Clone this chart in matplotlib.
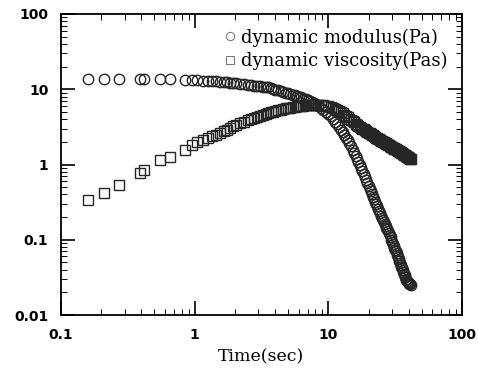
import numpy as np
import matplotlib
matplotlib.use("Agg")
import matplotlib.pyplot as plt

# time axis (sec), shared by both series
t = [0.16, 0.21, 0.27, 0.39, 0.42, 0.55, 0.65, 0.84, 0.95, 1.05,
     1.15, 1.25, 1.35, 1.45, 1.55, 1.65, 1.75, 1.85, 1.95, 2.05,
     2.2, 2.35, 2.5, 2.65, 2.8, 2.95, 3.1, 3.25, 3.4,
     3.55, 3.7, 3.85, 4.0, 4.2, 4.4, 4.6, 4.8, 5.0, 5.2, 5.4, 5.6, 5.8, 6.0,
     6.25, 6.5, 6.75, 7.0, 7.25, 7.5, 7.75, 8.0,
     8.4, 8.8, 9.2, 9.6, 10.0, 10.4, 10.8, 11.2, 11.6, 12.0,
     12.4, 12.8, 13.2, 13.6, 14.0, 14.4, 14.8, 15.2, 15.6, 16.0,
     16.4, 16.8, 17.2, 17.6, 18.0, 18.4, 18.8, 19.2, 19.6, 20.0,
     20.4, 20.8, 21.2, 21.6, 22.0, 22.4, 22.8, 23.2, 23.6, 24.0,
     24.4, 24.8, 25.2, 25.6, 26.0, 26.4, 26.8, 27.2, 27.6, 28.0,
     28.4, 28.8, 29.2, 29.6, 30.0, 30.4, 30.8, 31.2, 31.6, 32.0,
     32.4, 32.8, 33.2, 33.6, 34.0, 34.4, 34.8, 35.2, 35.6, 36.0,
     36.4, 36.8, 37.2, 37.6, 38.0, 38.4, 38.8, 39.2, 39.6, 40.0,
     40.4, 40.8, 41.2]

# dynamic modulus (Pa)
modulus = [13.6, 13.8, 13.8, 13.7, 13.7, 13.6, 13.5, 13.3, 13.2, 13.1,
           13.0, 12.9, 12.8, 12.7, 12.6, 12.45, 12.3, 12.2, 12.1, 12.0,
           11.8, 11.65, 11.5, 11.35, 11.2, 11.05, 10.95, 10.85, 10.7,
           10.55, 10.3, 10.1, 9.9, 9.66, 9.44, 9.2, 9.0, 8.83, 8.65, 8.49, 8.3, 8.15, 8.0,
           7.78, 7.53, 7.31, 7.1, 6.9, 6.7, 6.53, 6.36,
           6.07, 5.68, 5.31, 5.0, 4.71, 4.38, 4.03, 3.70, 3.42, 3.16,
           2.90, 2.67, 2.44, 2.26, 2.10, 1.95, 1.76, 1.58, 1.44, 1.31,
           1.19, 1.09, 0.99, 0.90, 0.817, 0.744, 0.678, 0.621, 0.568, 0.521,
           0.479, 0.441, 0.406, 0.375, 0.347, 0.321, 0.298, 0.277, 0.257, 0.239,
           0.224, 0.210, 0.197, 0.185, 0.174, 0.164, 0.154, 0.145, 0.137, 0.129,
           0.122, 0.1146, 0.1074, 0.1007, 0.0946, 0.0889, 0.0836, 0.0787, 0.0741, 0.0700,
           0.0661, 0.0624, 0.0589, 0.0555, 0.0523, 0.0493, 0.0467, 0.0441, 0.0417, 0.0394,
           0.0373, 0.0354, 0.0336, 0.0318, 0.0302, 0.0292, 0.0284, 0.0277, 0.0271, 0.0265,
           0.026, 0.0255, 0.025]

# dynamic viscosity (Pas)
viscosity = [0.34, 0.42, 0.53, 0.77, 0.84, 1.15, 1.25, 1.55, 1.8, 2.0,
             2.1, 2.25, 2.4, 2.5, 2.65, 2.78, 2.9, 3.05, 3.2, 3.35,
             3.55, 3.7, 3.85, 4.0, 4.15, 4.3, 4.45, 4.6, 4.75,
             4.85, 4.95, 5.05, 5.15, 5.25, 5.35, 5.45, 5.55, 5.62, 5.7, 5.78, 5.84, 5.9, 5.95,
             6.0, 6.05, 6.1, 6.13, 6.16, 6.18, 6.2, 6.2,
             6.2, 6.17, 6.12, 6.05, 5.95, 5.82, 5.65, 5.48, 5.3, 5.12,
             4.95, 4.77, 4.6, 4.42, 4.25, 4.08, 3.92, 3.77, 3.63, 3.5,
             3.38, 3.27, 3.17, 3.08, 3.0, 2.92, 2.85, 2.78, 2.71, 2.65,
             2.59, 2.53, 2.48, 2.43, 2.38, 2.33, 2.28, 2.24, 2.2, 2.16,
             2.12, 2.08, 2.04, 2.0, 1.97, 1.94, 1.91, 1.88, 1.85, 1.82,
             1.79, 1.76, 1.73, 1.71, 1.69, 1.67, 1.65, 1.63, 1.61, 1.59,
             1.57, 1.55, 1.53, 1.51, 1.49, 1.47, 1.45, 1.43, 1.41, 1.39,
             1.37, 1.35, 1.33, 1.32, 1.3, 1.28, 1.27, 1.25, 1.24, 1.22,
             1.21, 1.2, 1.19]

fig = plt.figure(figsize=(4.78, 3.71), dpi=100)
ax = fig.add_axes([0.1276, 0.1509, 0.8389, 0.8114])

mk = dict(linestyle="none", markerfacecolor="none", markersize=7.5,
          markeredgewidth=1.0, color="0.15")
ax.plot(t, modulus, marker="o", label="dynamic modulus(Pa)", **mk)
ax.plot(t, viscosity, marker="s", label="dynamic viscosity(Pas)", **mk)

ax.set_xscale("log")
ax.set_yscale("log")
ax.set_xlim(0.1, 100)
ax.set_ylim(0.01, 100)

ax.set_xticks([0.1, 1, 10, 100])
ax.set_xticklabels(["0.1", "1", "10", "100"])
ax.set_yticks([0.01, 0.1, 1, 10, 100])
ax.set_yticklabels(["0.01", "0.1", "1", "10", "100"])

ax.tick_params(which="both", direction="in", top=True, right=True)
ax.tick_params(which="major", length=10, width=1.2, labelsize=10, pad=9)
ax.tick_params(which="minor", length=4, width=0.7)
for lab in ax.get_xticklabels() + ax.get_yticklabels():
    lab.set_family("DejaVu Sans")
    lab.set_weight("bold")
for s in ax.spines.values():
    s.set_linewidth(1.3)

ax.set_xlabel("Time(sec)", family="DejaVu Serif", fontsize=12.5, labelpad=5)

leg = ax.legend(loc="upper right", frameon=False, prop={"family": "DejaVu Serif", "size": 13},
                handletextpad=0.1, handlelength=1.0, labelspacing=0.3,
                borderaxespad=0.4, markerscale=0.8)
for h in leg.legend_handles:
    h.set_color("0.45")
    h.set_markeredgewidth(0.7)

fig.savefig("out.png", dpi=100)
